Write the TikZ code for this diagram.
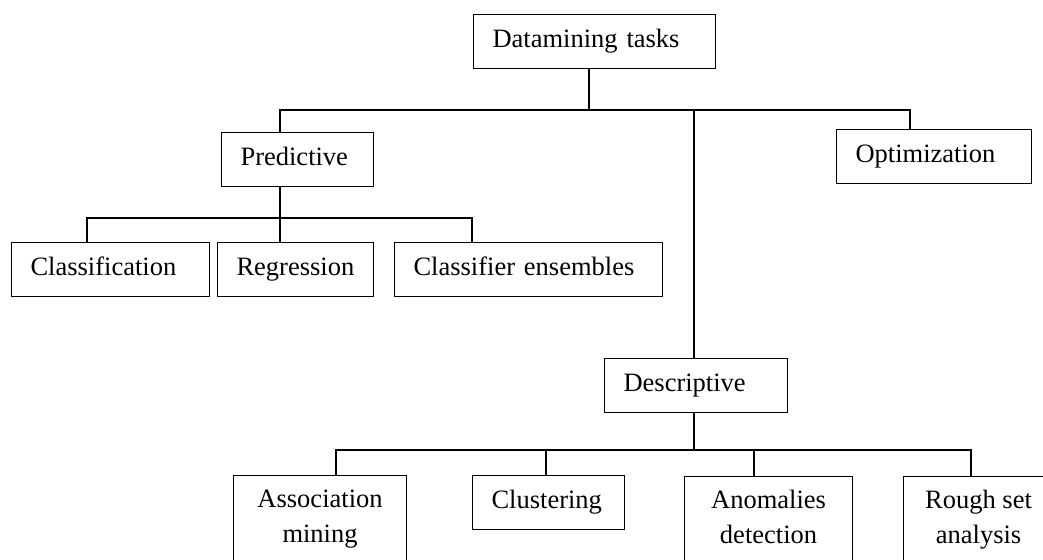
\documentclass[tikz,border=0pt]{standalone}
\usepackage{fontspec}
\setmainfont{Liberation Serif}
\begin{document}
\begin{tikzpicture}[x=1pt,y=-1pt,
  line width=1.1pt,
  boxbase/.style={draw, line width=1.1pt, font=\fontsize{26.5}{35}\selectfont},
  onebox/.style={boxbase, anchor=north west, inner xsep=19pt, inner ysep=0pt,
    minimum height=54pt, align=left, text height=18.5pt, text depth=6pt},
  twobox/.style={boxbase, anchor=north west, inner xsep=0pt, inner ysep=14pt, align=center},
]
\useasboundingbox (0,0) rectangle (1043,559);
\clip (0,0) rectangle (1043,559);

\node[onebox, text width=204pt] (dm) at (473,14) {Datamining tasks};
\node[onebox, text width=114pt] (pr) at (221,132) {Predictive};
\node[onebox, text width=157pt] (op) at (836,129) {Optimization};
\node[onebox, text width=160pt] (cl) at (11,242) {Classification};
\node[onebox, text width=118pt] (rg) at (217,242) {Regression};
\node[onebox, text width=230pt] (ce) at (394,242) {Classifier ensembles};
\node[onebox, text width=145pt] (de) at (604,358) {Descriptive};
\node[onebox, text width=114pt] (cu) at (472,475) {Clustering};
\node[twobox, minimum width=173pt] (as) at (233,475) {Association\\mining\rule[-15pt]{0pt}{16pt}};
\node[twobox, minimum width=168pt] (an) at (684,476) {Anomalies\\detection\rule[-15pt]{0pt}{16pt}};
\node[twobox, minimum width=150pt] (rs) at (903,476) {Rough set\\analysis\rule[-15pt]{0pt}{16pt}};

\coordinate (t1) at (280,110);
\coordinate (t2) at (589,110);
\coordinate (t3) at (694,110);
\coordinate (t4) at (910,110);
\draw (dm.south -| t2) -- (t2);
\draw (pr.north -| t1) -- (t1) -- (t4) -- (op.north -| t4);
\draw (t3) -- (de.north -| t3);

\coordinate (p0) at (280,218);
\coordinate (p1) at (87,218);
\coordinate (p3) at (472,218);
\draw (pr.south -| p0) -- (rg.north -| p0);
\draw (cl.north -| p1) -- (p1) -- (p3) -- (ce.north -| p3);

\coordinate (q0) at (694,450);
\coordinate (q1) at (336,450);
\coordinate (q2) at (546,450);
\coordinate (q3) at (754,450);
\coordinate (q4) at (971,450);
\draw (de.south -| q0) -- (q0);
\draw (as.north -| q1) -- (q1) -- (q4) -- (rs.north -| q4);
\draw (q2) -- (cu.north -| q2);
\draw (q3) -- (an.north -| q3);
\end{tikzpicture}
\end{document}
